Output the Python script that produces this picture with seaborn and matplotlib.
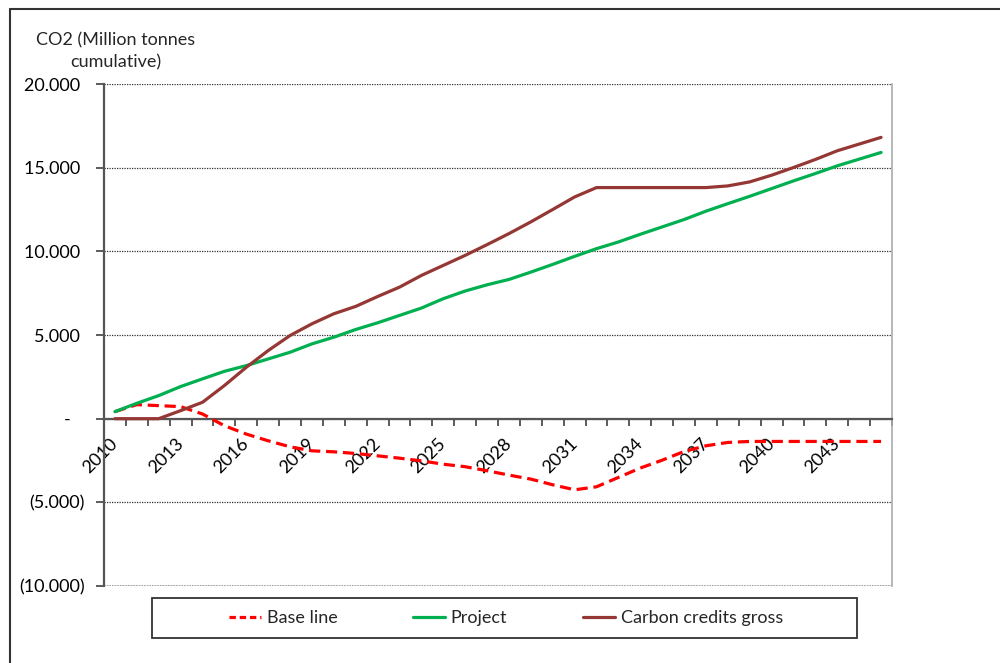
import matplotlib
matplotlib.use("Agg")
import matplotlib.pyplot as plt
from matplotlib.lines import Line2D
from matplotlib.patches import Rectangle
from matplotlib.ticker import FuncFormatter, FixedLocator
import numpy as np
import pandas as pd
import seaborn as sns

# Cumulative CO2, thousand tonnes, one value per year 2010-2045
years = list(range(2010, 2046))
base_line = [420, 840, 780, 720, 280, -420, -920, -1320, -1680, -1920,
             -1980, -2080, -2220, -2360, -2520, -2720, -2870, -3110, -3370, -3610,
             -3950, -4250, -4070, -3510, -2950, -2480, -1960, -1620, -1420, -1360,
             -1360, -1360, -1360, -1360, -1360, -1360]
project = [420, 920, 1380, 1920, 2380, 2830, 3170, 3570, 3970, 4470,
           4870, 5330, 5730, 6170, 6610, 7170, 7630, 8000, 8320, 8760,
           9220, 9700, 10160, 10560, 11020, 11460, 11900, 12400, 12850, 13290,
           13750, 14210, 14650, 15110, 15510, 15910]
carbon_credits = [0, 0, 0, 480, 980, 1980, 3070, 4070, 4970, 5670,
                  6270, 6710, 7300, 7860, 8560, 9160, 9760, 10400, 11060, 11760,
                  12500, 13250, 13810, 13810, 13810, 13810, 13810, 13810, 13910, 14150,
                  14550, 15010, 15490, 16010, 16410, 16810]

series_names = ["Base line", "Project", "Carbon credits gross"]
series_colors = ["#FF0000", "#00B050", "#953735"]
y_ticks = [-10000, -5000, 0, 5000, 10000, 15000, 20000]
x_label_years = list(range(2010, 2046, 3))

df = pd.DataFrame({
    "year": years * 3,
    "value": base_line + project + carbon_credits,
    "series": np.repeat(series_names, len(years)),
})

sns.set_theme(style="white")
plt.rcParams["font.family"] = ["Lato", "DejaVu Sans"]

fig = plt.figure(figsize=(10, 6.63), dpi=100)
ax = fig.add_axes([0.104, 0.1161, 0.788, 0.7572])

sns.lineplot(
    data=df, x="year", y="value", hue="series", style="series",
    hue_order=series_names, style_order=series_names,
    palette=dict(zip(series_names, series_colors)),
    dashes={"Base line": (3.5, 1.8), "Project": "", "Carbon credits gross": ""},
    linewidth=2.3, ax=ax, legend=False,
)
for ln in ax.lines:
    ln.set_zorder(3)

ax.set_xlim(years[0] - 0.5, years[-1] + 0.5)
ax.set_ylim(y_ticks[0], y_ticks[-1])
ax.set_xlabel("")
ax.set_ylabel("")


def fmt_y(v, _pos):
    if abs(v) < 1e-9:
        return "-   "
    s = f"{abs(v):,.0f}".replace(",", ".")
    return f"({s})" if v < 0 else s + " "


ax.yaxis.set_major_locator(FixedLocator(y_ticks))
ax.yaxis.set_major_formatter(FuncFormatter(fmt_y))
ax.tick_params(axis="y", which="major", direction="out", length=6, width=1.2,
               color="#404040", pad=8, labelsize=13, labelcolor="black", left=True)

# category boundaries as small ticks, year labels at every third category
ax.xaxis.set_major_locator(FixedLocator(x_label_years))
ax.xaxis.set_minor_locator(FixedLocator([y - 0.5 for y in years] + [years[-1] + 0.5]))
ax.xaxis.set_major_formatter(FuncFormatter(lambda v, p: f"{int(round(v))}"))
ax.tick_params(axis="x", which="major", length=0, pad=16, labelsize=13,
               labelcolor="black", labelrotation=45)
ax.tick_params(axis="x", which="minor", direction="out", length=5, width=1.2,
               color="#404040", bottom=True)

ax.grid(axis="y", color="#303030", linestyle=(0, (1, 1)), linewidth=0.9)
ax.grid(axis="x", visible=False)

ax.spines["bottom"].set_position(("data", 0))
ax.spines["bottom"].set_color("#555555")
ax.spines["bottom"].set_linewidth(1.6)
ax.spines["left"].set_color("#555555")
ax.spines["left"].set_linewidth(1.6)
ax.spines["right"].set_color("#AAAAAA")
ax.spines["right"].set_linewidth(1.2)
ax.spines["top"].set_visible(False)
ax.axhline(y_ticks[0], color="#999999", linewidth=1.2, linestyle=(0, (1, 0.6)))

# axis title above the value labels
fig.text(0.116, 0.923, "CO2 (Million tonnes\ncumulative)", ha="center", va="center",
         fontsize=13, linespacing=1.45)

# chart frame
fig.add_artist(Line2D([0.010, 0.010], [0.0, 0.986], transform=fig.transFigure,
                      color="#333333", linewidth=1.5))
fig.add_artist(Line2D([0.010, 1.0], [0.986, 0.986], transform=fig.transFigure,
                      color="#333333", linewidth=1.5))

# legend box
fig.add_artist(Rectangle((0.152, 0.0377), 0.705, 0.0603, transform=fig.transFigure,
                         fill=False, edgecolor="#333333", linewidth=1.3))
handles = [
    Line2D([], [], color=series_colors[0], linewidth=2.3, linestyle=(0, (2.0, 1.2))),
    Line2D([], [], color=series_colors[1], linewidth=2.3),
    Line2D([], [], color=series_colors[2], linewidth=2.3),
]
fig.legend(handles, series_names, loc="center left", bbox_to_anchor=(0.229, 0.068),
           ncol=3, frameon=False, fontsize=13, handlelength=1.75, handletextpad=0.33,
           columnspacing=4.2, borderpad=0, borderaxespad=0)

fig.canvas.draw()
for lbl in ax.get_xticklabels():
    lbl.set_ha("right")
    lbl.set_va("center")
    lbl.set_rotation_mode("anchor")

fig.savefig("out.png", dpi=100)
